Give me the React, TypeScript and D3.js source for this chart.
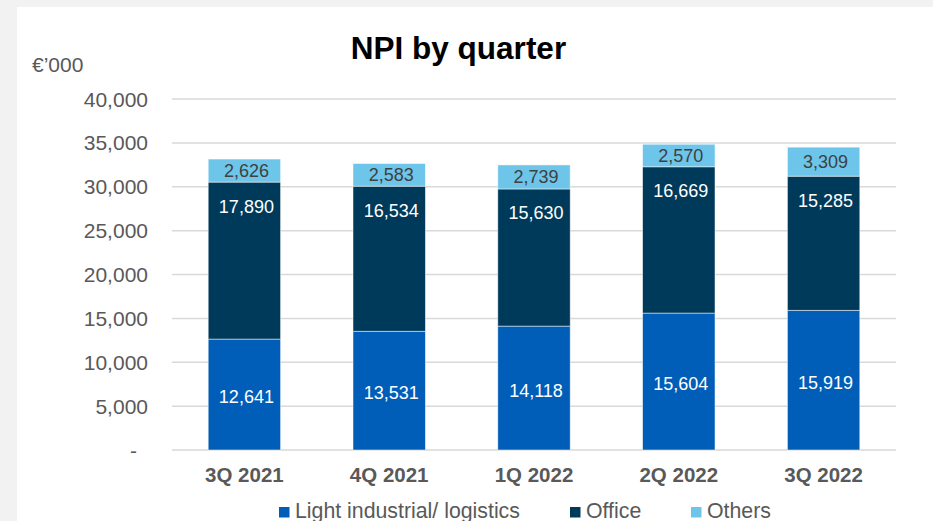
import React from "react";
import * as d3 from "d3";

const categories = ["3Q 2021", "4Q 2021", "1Q 2022", "2Q 2022", "3Q 2022"];
const lightIndustrial = [12641, 13531, 14118, 15604, 15919];
const office = [17890, 16534, 15630, 16669, 15285];
const others = [2626, 2583, 2739, 2570, 3309];
const seriesNames = ["Light industrial/ logistics", "Office", "Others"];
const yTicks = [0, 5000, 10000, 15000, 20000, 25000, 30000, 35000, 40000];

const W = 933;
const H = 521;
const FONT = "'Liberation Sans', Arial, sans-serif";
const colors = ["#005EB8", "#003A5B", "#6EC5EA"];
const labelColors = ["#ffffff", "#ffffff", "#404040"];

export default function App() {
  const x = d3.scaleBand<string>().domain(categories).range([172, 896]).paddingInner(0.5).paddingOuter(0.25);
  const y = d3.scaleLinear().domain([0, 40000]).range([450, 99]);
  const rows = categories.map((c, i) => ({
    cat: c,
    light: lightIndustrial[i],
    office: office[i],
    others: others[i],
  }));
  const stack = d3.stack<any>().keys(["light", "office", "others"])(rows);
  const fmt = d3.format(",");

  const legendX = [279, 570, 691];

  return (
    <svg width={W} height={H} style={{ position: "fixed", left: 0, top: 0 }} fontFamily={FONT}>
      <rect x={0} y={0} width={W} height={H} fill="#f2f2f2" />
      <rect x={17} y={7} width={W - 17} height={H - 7} fill="#ffffff" />
      <text x={458.5} y={59} textAnchor="middle" fontSize={31.5} fontWeight="bold" fill="#000">NPI by quarter</text>
      <text x={32} y={72} fontSize={21} fill="#595959">€’000</text>
      {yTicks.map((t) => (
        <g key={t}>
          <line x1={172} x2={896} y1={y(t)} y2={y(t)} stroke="#d9d9d9" strokeWidth={1.5} />
          <text
            x={t === 0 ? 137 : 148}
            y={y(t)}
            dy="0.36em"
            textAnchor="end"
            fontSize={21}
            fill="#595959"
          >
            {t === 0 ? "-" : fmt(t)}
          </text>
        </g>
      ))}
      {stack.map((s, si) => (
        <g key={si}>
          {s.map((d, i) => {
            const x0 = x(categories[i])!;
            const top = y(d[1]);
            const bot = y(d[0]);
            const v = d[1] - d[0];
            const ly = si === 1 ? top + 24 : si === 0 ? (top + bot) / 2 + 2 : (top + bot) / 2;
            return (
              <g key={i}>
                <rect x={x0} y={top} width={x.bandwidth()} height={bot - top} fill={colors[si]} stroke="#ffffff" strokeOpacity={0.6} strokeWidth={0.8} />
                <text x={x0 + x.bandwidth() / 2 + 2} y={ly} dy="0.36em" textAnchor="middle" fontSize={18} fill={labelColors[si]}>
                  {fmt(v)}
                </text>
              </g>
            );
          })}
        </g>
      ))}
      {categories.map((c) => (
        <text key={c} x={x(c)! + x.bandwidth() / 2} y={482} textAnchor="middle" fontSize={20.5} fontWeight="bold" fill="#595959">
          {c}
        </text>
      ))}
      {seriesNames.map((n, i) => (
        <g key={n}>
          <rect x={legendX[i]} y={507} width={10.5} height={10.5} fill={colors[i]} />
          <text x={legendX[i] + 16} y={518} fontSize={21.3} fill="#595959">{n}</text>
        </g>
      ))}
    </svg>
  );
}
